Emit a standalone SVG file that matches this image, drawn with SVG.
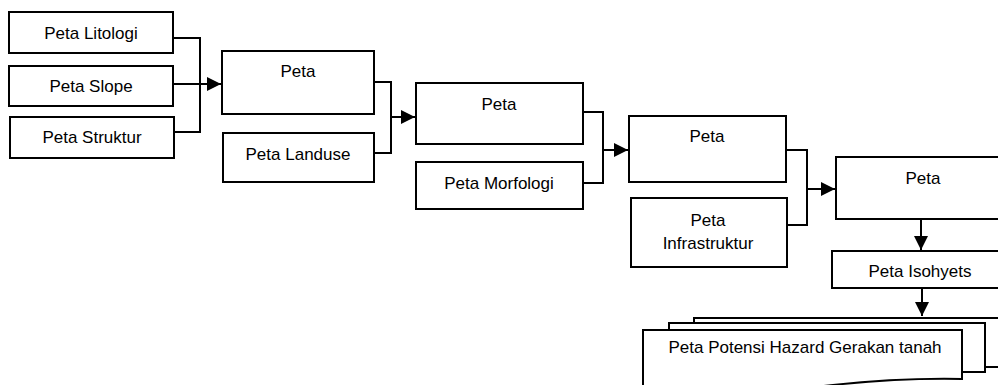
<svg xmlns="http://www.w3.org/2000/svg" width="998" height="385" viewBox="0 0 998 385">
<defs>
<style>
.box{fill:#fff;stroke:#000;stroke-width:2}
.t{font-family:"Liberation Sans",Arial,sans-serif;font-size:17px;fill:#000;text-anchor:middle}
.c{fill:none;stroke:#000;stroke-width:2}
</style>
<marker id="ah" viewBox="0 0 10 10" refX="10" refY="5" markerWidth="14" markerHeight="14" markerUnits="userSpaceOnUse" orient="auto">
<path d="M0,0 L10,5 L0,10 z" fill="#000"/>
</marker>
</defs>
<rect width="998" height="385" fill="#fff"/>
<g id="connectors">
<path class="c" d="M173,38 H200 V132 H174"/>
<path class="c" d="M173,84 H221" marker-end="url(#ah)"/>
<path class="c" d="M374,82 H391 V153 H374"/>
<path class="c" d="M391,117 H415" marker-end="url(#ah)"/>
<path class="c" d="M583,112 H603 V183 H583"/>
<path class="c" d="M603,150 H628" marker-end="url(#ah)"/>
<path class="c" d="M786,150 H807 V225 H787"/>
<path class="c" d="M807,189 H835" marker-end="url(#ah)"/>
<path class="c" d="M921,219 V250" marker-end="url(#ah)"/>
<path class="c" d="M922,288 V316" marker-end="url(#ah)"/>
</g>
<g id="litologi"><rect class="box" x="9" y="12" width="164" height="41"/><text class="t" x="91" y="39">Peta Litologi</text></g>
<g id="slope"><rect class="box" x="9" y="66" width="164" height="40"/><text class="t" x="91" y="92">Peta Slope</text></g>
<g id="struktur"><rect class="box" x="10" y="117" width="164" height="41"/><text class="t" x="92" y="143">Peta Struktur</text></g>
<g id="peta1"><rect class="box" x="222" y="51" width="152" height="63"/><text class="t" x="298" y="77">Peta</text></g>
<g id="landuse"><rect class="box" x="223" y="133" width="151" height="49"/><text class="t" x="298" y="160">Peta Landuse</text></g>
<g id="peta2"><rect class="box" x="416" y="83" width="167" height="61"/><text class="t" x="499" y="110">Peta</text></g>
<g id="morfologi"><rect class="box" x="416" y="162" width="167" height="47"/><text class="t" x="499" y="189">Peta Morfologi</text></g>
<g id="peta3"><rect class="box" x="629" y="116" width="157" height="66"/><text class="t" x="707" y="142">Peta</text></g>
<g id="infrastruktur"><rect class="box" x="631" y="198" width="156" height="69"/><text class="t" x="708" y="226">Peta</text><text class="t" x="708" y="249">Infrastruktur</text></g>
<g id="peta4"><rect class="box" x="836" y="157" width="174" height="62"/><text class="t" x="923" y="184">Peta</text></g>
<g id="isohyets"><rect class="box" x="832" y="251" width="178" height="37"/><text class="t" x="920" y="277">Peta Isohyets</text></g>
<g id="hazard">
<rect class="box" x="694" y="318" width="320" height="49"/>
<rect class="box" x="669" y="323" width="316" height="49"/>
<path class="box" d="M643,330 H962 V379 C910,378 870,381 833,385 C780,391 700,394 643,392 Z"/>
<text class="t" x="805" y="353">Peta Potensi Hazard Gerakan tanah</text>
</g>
</svg>
